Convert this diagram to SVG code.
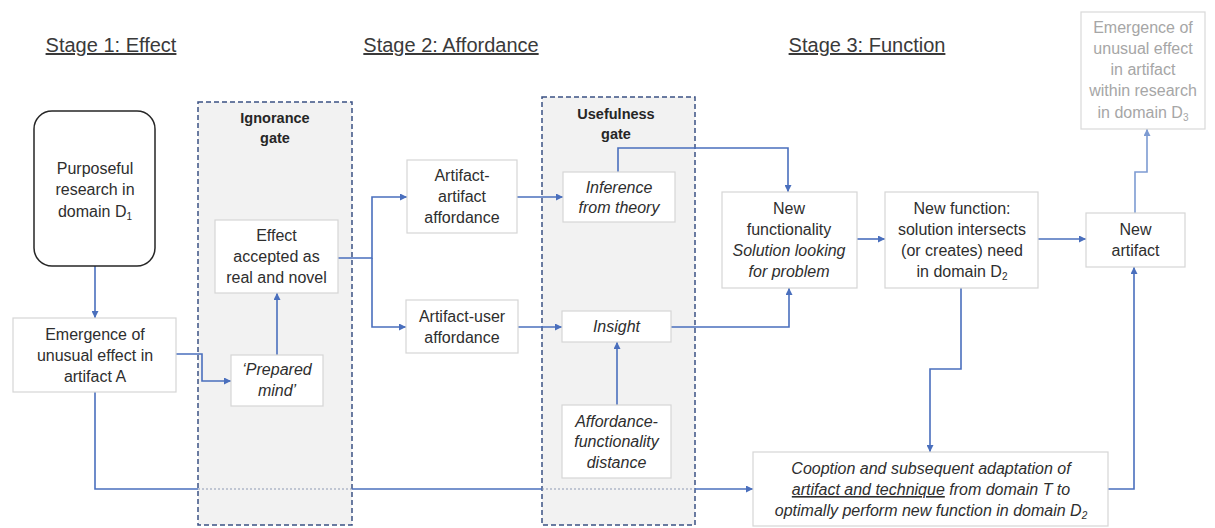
<svg xmlns="http://www.w3.org/2000/svg" width="1215" height="528" viewBox="0 0 1215 528">
<defs>
<marker id="ah" viewBox="0 0 10 10" refX="10" refY="5" markerWidth="8" markerHeight="7" markerUnits="userSpaceOnUse" orient="auto">
<path d="M0,0 L10,5 L0,10 z" fill="#4a6fbd"/>
</marker>
<marker id="ahl" viewBox="0 0 10 10" refX="10" refY="5" markerWidth="8" markerHeight="7" markerUnits="userSpaceOnUse" orient="auto">
<path d="M0,0 L10,5 L0,10 z" fill="#7d9bd2"/>
</marker>
<style>
text{font-family:"Liberation Sans",Arial,sans-serif;font-size:16px;fill:#2e2e2e;text-anchor:middle}
.title{font-size:20px;fill:#3a3a3a;text-decoration:underline}
.gt{font-weight:bold;font-size:14.5px;fill:#262626}
.it{font-style:italic}
.box{fill:#ffffff;stroke:#d6d6d6;stroke-width:1.2}
.gate{fill:#f2f2f2;stroke:#3b5184;stroke-width:1.5;stroke-dasharray:5 3}
.c{fill:none;stroke:#4a6fbd;stroke-width:1.6}
.cf{fill:none;stroke:#8e9ab3;stroke-width:1.2;stroke-dasharray:2 2}
.cl{fill:none;stroke:#7d9bd2;stroke-width:1.6}
.grey{fill:#a6a6a6}
</style>
</defs>
<rect width="1215" height="528" fill="#ffffff"/>

<g id="titles">
<text class="title" x="111" y="52">Stage 1: Effect</text>
<text class="title" x="451" y="52">Stage 2: Affordance</text>
<text class="title" x="867" y="52">Stage 3: Function</text>
</g>

<g id="ignorance-gate">
<rect class="gate" x="198" y="102" width="154" height="423"/>
<text class="gt" x="275" y="123">Ignorance</text>
<text class="gt" x="275" y="143">gate</text>
</g>
<g id="usefulness-gate">
<rect class="gate" x="542" y="97" width="153" height="428"/>
<text class="gt" x="616" y="119">Usefulness</text>
<text class="gt" x="616" y="139">gate</text>
</g>

<g id="connectors">
<path class="c" d="M95 266 V318" marker-end="url(#ah)"/>
<path class="c" d="M176 354 H202 V381 H231" marker-end="url(#ah)"/>
<path class="c" d="M277 355 V293" marker-end="url(#ah)"/>
<path class="c" d="M338 258 H372 V197 H407" marker-end="url(#ah)"/>
<path class="c" d="M372 258 V327 H406" marker-end="url(#ah)"/>
<path class="c" d="M517 197 H563" marker-end="url(#ah)"/>
<path class="c" d="M518 327 H562" marker-end="url(#ah)"/>
<path class="c" d="M617 405 V342" marker-end="url(#ah)"/>
<path class="c" d="M618 172 V148 H788 V192" marker-end="url(#ah)"/>
<path class="c" d="M671 327 H789 V288" marker-end="url(#ah)"/>
<path class="c" d="M857 239 H885" marker-end="url(#ah)"/>
<path class="c" d="M1038 239 H1086" marker-end="url(#ah)"/>
<path class="cl" d="M1135 213 V172 H1147 V129" marker-end="url(#ahl)"/>
<path class="c" d="M961 288 V369 H930 V452" marker-end="url(#ah)"/>
<path class="c" d="M1108 489 H1134 V267" marker-end="url(#ah)"/>
<path class="c" d="M95 392 V489 H198"/>
<path class="cf" d="M198 489 H352"/>
<path class="c" d="M352 489 H542"/>
<path class="cf" d="M542 489 H695"/>
<path class="c" d="M695 489 H753" marker-end="url(#ah)"/>
</g>

<g id="purposeful-research">
<rect x="34" y="111" width="121" height="155" rx="18" ry="18" fill="#ffffff" stroke="#262626" stroke-width="1.5"/>
<text x="95" y="174">Purposeful</text>
<text x="95" y="195">research in</text>
<text x="95" y="217">domain D<tspan font-size="10" dy="3">1</tspan></text>
</g>

<g id="emergence-a">
<rect class="box" x="13" y="318" width="163" height="74"/>
<text x="95" y="340">Emergence of</text>
<text x="95" y="361">unusual effect in</text>
<text x="95" y="382">artifact A</text>
</g>

<g id="effect-accepted">
<rect class="box" x="215" y="220" width="123" height="73"/>
<text x="276.5" y="241">Effect</text>
<text x="276.5" y="262">accepted as</text>
<text x="276.5" y="283">real and novel</text>
</g>

<g id="prepared-mind">
<rect class="box" x="231" y="355" width="92" height="51"/>
<text class="it" x="277" y="375">‘Prepared</text>
<text class="it" x="277" y="396">mind’</text>
</g>

<g id="artifact-artifact">
<rect class="box" x="407" y="160" width="110" height="73"/>
<text x="462" y="181">Artifact-</text>
<text x="462" y="202">artifact</text>
<text x="462" y="223">affordance</text>
</g>

<g id="artifact-user">
<rect class="box" x="406" y="300" width="112" height="53"/>
<text x="462" y="322">Artifact-user</text>
<text x="462" y="343">affordance</text>
</g>

<g id="inference">
<rect class="box" x="563" y="172" width="112" height="50"/>
<text class="it" x="619" y="193">Inference</text>
<text class="it" x="619" y="213">from theory</text>
</g>

<g id="insight">
<rect class="box" x="562" y="311" width="109" height="31"/>
<text class="it" x="616.5" y="332">Insight</text>
</g>

<g id="affordance-distance">
<rect class="box" x="562" y="405" width="109" height="73"/>
<text class="it" x="616.5" y="427">Affordance-</text>
<text class="it" x="616.5" y="447">functionality</text>
<text class="it" x="616.5" y="468">distance</text>
</g>

<g id="new-functionality">
<rect class="box" x="722" y="192" width="135" height="96"/>
<text x="789" y="214">New</text>
<text x="789" y="235">functionality</text>
<text class="it" x="789" y="256">Solution looking</text>
<text class="it" x="789" y="277">for problem</text>
</g>

<g id="new-function">
<rect class="box" x="885" y="192" width="153" height="96"/>
<text x="962" y="214">New function:</text>
<text x="962" y="235">solution intersects</text>
<text x="962" y="256">(or creates) need</text>
<text x="962" y="277">in domain D<tspan font-size="10" dy="3">2</tspan></text>
</g>

<g id="new-artifact">
<rect class="box" x="1086" y="213" width="99" height="54"/>
<text x="1135.5" y="235">New</text>
<text x="1135.5" y="256">artifact</text>
</g>

<g id="emergence-d3">
<rect x="1081" y="12" width="124" height="117" fill="#ffffff" stroke="#d9d9d9" stroke-width="1.2"/>
<text class="grey" x="1143" y="33">Emergence of</text>
<text class="grey" x="1143" y="54">unusual effect</text>
<text class="grey" x="1143" y="75">in artifact</text>
<text class="grey" x="1143" y="96">within research</text>
<text class="grey" x="1143" y="118">in domain D<tspan font-size="10" dy="3">3</tspan></text>
</g>

<g id="cooption">
<rect class="box" x="753" y="452" width="355" height="74"/>
<text class="it" x="931" y="474">Cooption and subsequent adaptation of</text>
<text class="it" x="931" y="495"><tspan text-decoration="underline">artifact and technique</tspan> from domain T to</text>
<text class="it" x="931" y="516">optimally perform new function in domain D<tspan font-size="10" dy="3">2</tspan></text>
</g>
</svg>
